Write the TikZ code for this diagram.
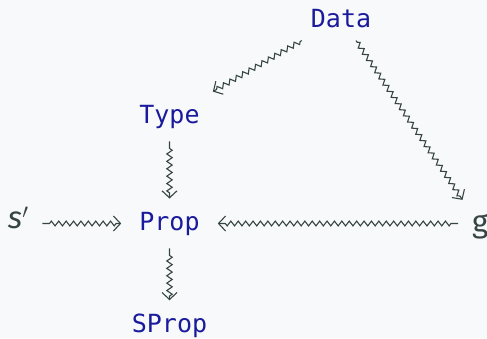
\documentclass[tikz,border=0pt]{standalone}
\usepackage{fontspec}
\setmonofont{DejaVu Sans Mono}
\setsansfont{Fira Sans}
\usetikzlibrary{decorations.pathmorphing,arrows.meta}
\definecolor{bg}{HTML}{F8F9FA}
\definecolor{cblue}{HTML}{1A1A9C}
\definecolor{cgray}{HTML}{374444}
\begin{document}
\begin{tikzpicture}[x=1pt,y=-1pt,
  tt/.style={font=\fontsize{25}{30}\selectfont\ttfamily, text=cblue, inner xsep=18pt, inner ysep=13pt, anchor=base},
  sf/.style={font=\fontsize{31}{36}\selectfont\sffamily, text=cgray, inner sep=0pt, outer sep=14pt, anchor=base west},
  tipd/.tip={Straight Barb[length=7pt,width=15pt]},
  sq/.style={draw=cgray, line width=1.1pt, -tipd, decorate,
    decoration={zigzag, segment length=7.4pt, amplitude=2.4pt, pre length=7pt, post length=4pt}}]
\fill[bg] (0,0) rectangle (487,338);
\useasboundingbox (0,0) rectangle (487,338);
\node[tt] (data) at (341,27) {Data};
\node[tt] (type) at (169.5,123) {Type};
\node[tt] (prop) at (169.5,230) {Prop};
\node[tt] (sprop) at (169.5,332) {SProp};
\node[sf] (sp) at (-6,228) {{\itshape s}$^{\prime}$};
\node[sf] (g) at (458,232) {g};
\draw[sq, decoration={pre length=2pt}] (data) -- (type);
\draw[sq, decoration={pre length=2pt}] (data) -- (g);
\draw[sq, decoration={amplitude=2.7pt}] (type.south) -- (prop.north);
\draw[sq, decoration={amplitude=2.7pt}] (prop.south) -- (sprop.north);
\draw[sq] (sp.east |- prop.west) -- (prop.west);
\draw[sq] (g.west |- prop.east) -- (prop.east);
\end{tikzpicture}
\end{document}
